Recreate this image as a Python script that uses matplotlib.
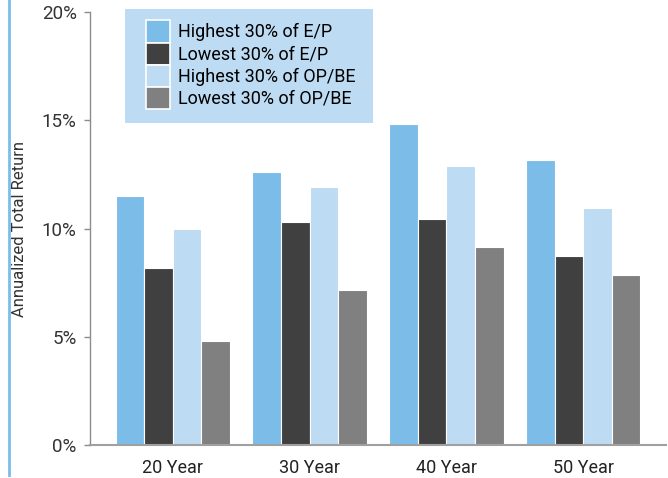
import numpy as np
import matplotlib
matplotlib.use("Agg")
import matplotlib.pyplot as plt
from matplotlib.patches import Rectangle
from matplotlib.ticker import FuncFormatter

plt.rcParams['font.family'] = ['Roboto', 'DejaVu Sans']

periods = ["20 Year", "30 Year", "40 Year", "50 Year"]
ep_high = [11.5, 12.6, 14.85, 13.15]    # Highest 30% of E/P
ep_low = [8.2, 10.3, 10.45, 8.75]       # Lowest 30% of E/P
op_high = [10.0, 11.9, 12.9, 10.95]     # Highest 30% of OP/BE
op_low = [4.8, 7.15, 9.15, 7.85]        # Lowest 30% of OP/BE

series = [ep_high, ep_low, op_high, op_low]
labels = ["Highest 30% of E/P", "Lowest 30% of E/P",
          "Highest 30% of OP/BE", "Lowest 30% of OP/BE"]
colors = ['#7bbde8', '#404040', '#bddbf2', '#808080']

fig = plt.figure(figsize=(6.68, 4.78), dpi=100)
ax = fig.add_axes([90/668, 1 - 445.3/478, 576/668, 433.3/478])

x = np.arange(len(periods))
w = 0.209
handles = []
for i, (vals, lab, col) in enumerate(zip(series, labels, colors)):
    b = ax.bar(x + (i - 1.5) * w, vals, w, color=col, edgecolor='white',
               linewidth=0.8, label=lab)
    handles.append(b)

ax.set_xlim(-0.606, 3.606)
ax.set_ylim(0, 20)
ax.set_yticks([0, 5, 10, 15, 20])
ax.yaxis.set_major_formatter(FuncFormatter(lambda v, p: f"{v:.0f}%"))
ax.set_xticks(x)
ax.set_xticklabels(periods)

for s in ['top', 'right']:
    ax.spines[s].set_visible(False)
ax.spines['left'].set_color('#8c8c8c')
ax.spines['left'].set_linewidth(1.0)
ax.spines['bottom'].set_color('#a0a0a0')
ax.spines['bottom'].set_linewidth(1.5)

ax.tick_params(axis='y', length=4.5, width=1, color='#8c8c8c', pad=5,
               labelsize=13.5, labelcolor='#333333')
ax.tick_params(axis='x', length=0, pad=10, labelsize=13, labelcolor='#222222')

ax.set_ylabel("Annualized Total Return", fontsize=12, color='#333333')
ax.yaxis.set_label_coords(-0.109, 0.5)

# legend background box
fig.patches.append(Rectangle((125/668, 1 - 123/478), 248/668, 113.7/478,
                             transform=fig.transFigure, facecolor='#bddbf2',
                             edgecolor='none', zorder=0))
leg = fig.legend(handles=handles, loc='upper left',
                 bbox_to_anchor=(146/668, 1 - 20.5/478), frameon=False,
                 fontsize=13, handlelength=1.33, handleheight=1.5,
                 handletextpad=0.45, labelspacing=0.0, borderpad=0,
                 borderaxespad=0)
for h in leg.legend_handles:
    h.set_edgecolor('white')
    h.set_linewidth(1.2)

# thin accent line at left edge
fig.add_artist(plt.Line2D([8.5/668, 8.5/668], [1 - 475/478, 1.0],
                          transform=fig.transFigure, color='#7bbde8',
                          linewidth=2))

fig.savefig("out.png", dpi=100)
